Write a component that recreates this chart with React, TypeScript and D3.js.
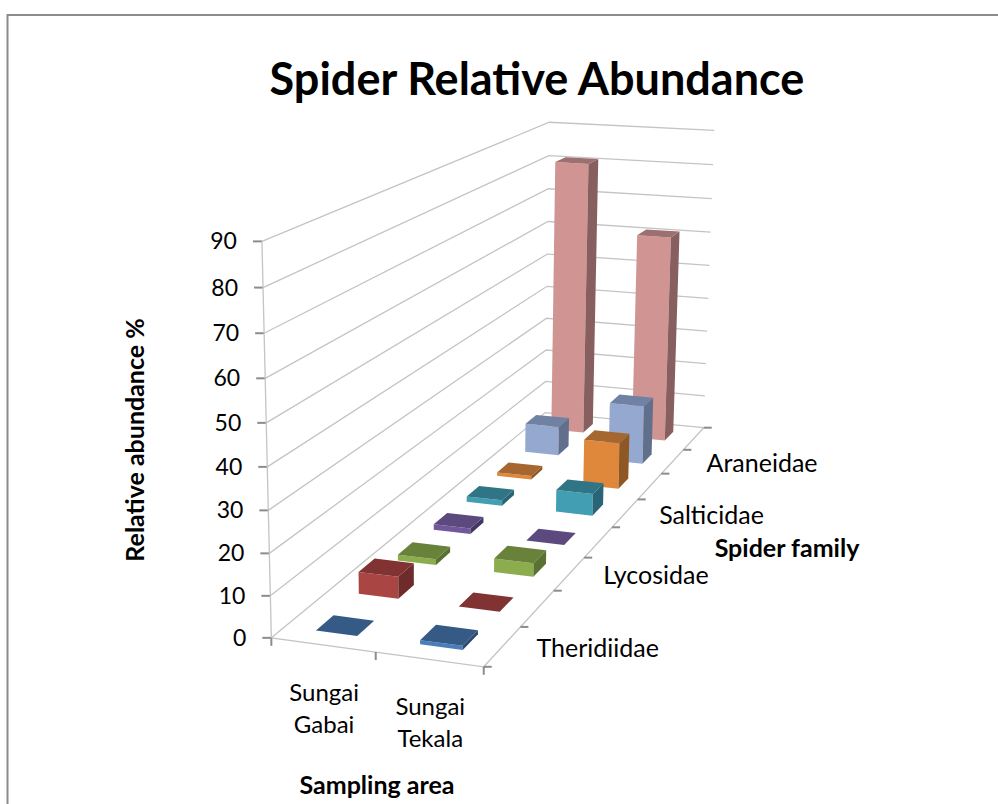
import React from "react";
import * as d3 from "d3";

const areas = ["Sungai Gabai", "Sungai Tekala"];
const families = ["Theridiidae", "", "Lycosidae", "", "Salticidae", "", "Araneidae", ""];
const gabai = [0, 5.5, 1.5, 1.5, 1.5, 1, 8.5, 81];
const tekala = [1, 0, 3.5, 0, 6, 13, 17, 61];
const valueTicks = d3.range(0, 100, 10);
const frontColors = ["#4A7EBB", "#A94644", "#8BAD4E", "#72589A", "#419EB3", "#DF873B", "#95A9D0", "#D09493"];
const topColors = ["#355A85", "#803332", "#68823A", "#5C4A7F", "#307585", "#A66630", "#6F82A3", "#9E6F6F"];
const sideColors = ["#2B4A6E", "#6D2C2B", "#5A7231", "#453763", "#2A6577", "#8F5723", "#5F6F8C", "#875F5F"];

// Camera: fitted from where the box corners fall in the picture.
const anchors: [number, number, number, number, number][] = [
  [0, 0, 0, 272, 638],
  [1, 0, 0, 483, 667],
  [1, 0, 1, 704, 427],
  [0, 0, 1, 545, 413],
  [0, 1, 0, 262, 241],
  [0, 1, 1, 549, 122],
  [1, 1, 1, 714.5, 131],
];

function solveCamera() {
  const rows: number[][] = [];
  const rhs: number[] = [];
  for (const [x, y, z, u, v] of anchors) {
    rows.push([x, y, z, 1, 0, 0, 0, 0, -u * x, -u * y, -u * z]);
    rhs.push(u);
    rows.push([0, 0, 0, 0, x, y, z, 1, -v * x, -v * y, -v * z]);
    rhs.push(v);
  }
  const n = 11;
  const A = d3.range(n).map((i) =>
    d3.range(n + 1).map((j) =>
      j < n ? d3.sum(rows, (r) => r[i] * r[j]) : d3.sum(rows, (r, k) => r[i] * rhs[k])
    )
  );
  for (let c = 0; c < n; c++) {
    let p = c;
    for (let r = c + 1; r < n; r++) if (Math.abs(A[r][c]) > Math.abs(A[p][c])) p = r;
    [A[c], A[p]] = [A[p], A[c]];
    for (let r = 0; r < n; r++) {
      if (r === c) continue;
      const f = A[r][c] / A[c][c];
      for (let j = c; j <= n; j++) A[r][j] -= f * A[c][j];
    }
  }
  return A.map((r, i) => r[n] / r[i]);
}
const h = solveCamera();
function project(x: number, y: number, z: number): [number, number] {
  const w = h[8] * x + h[9] * y + h[10] * z + 1;
  return [
    (h[0] * x + h[1] * y + h[2] * z + h[3]) / w,
    (h[4] * x + h[5] * y + h[6] * z + h[7]) / w,
  ];
}

const xBand = d3.scaleBand<number>().domain([0, 1]).range([0, 1]).paddingInner(0.6).paddingOuter(0.3);
const zBand = d3.scaleBand<number>().domain(d3.range(8)).range([0, 1]).paddingInner(0.6).paddingOuter(0.3);
const yScale = d3.scaleLinear().domain([0, 90]).range([0, 1]);
const zEdges = d3.range(9).map((i) => i / 8);
const poly = (pts: [number, number][]) => d3.line()(pts) + "Z";
const FONT = "Lato, Carlito, 'Open Sans', sans-serif";
const gridColor = "#c4c4c4";
const tickColor = "#8c8c8c";

export default function App() {
  const bars: React.ReactNode[] = [];
  for (let s = 7; s >= 0; s--) {
    [gabai[s], tekala[s]].forEach((value, a) => {
      const x0 = xBand(a)!;
      const x1 = x0 + xBand.bandwidth();
      const z0 = zBand(s)!;
      const z1 = z0 + zBand.bandwidth();
      const y = yScale(value);
      bars.push(
        <g key={`${s}-${a}`}>
          <path d={poly([project(x0, y, z0), project(x1, y, z0), project(x1, 0, z0), project(x0, 0, z0)])} fill={frontColors[s]} />
          <path d={poly([project(x1, y, z0), project(x1, y, z1), project(x1, 0, z1), project(x1, 0, z0)])} fill={sideColors[s]} />
          <path d={poly([project(x0, y, z0), project(x0, y, z1), project(x1, y, z1), project(x1, y, z0)])} fill={topColors[s]} />
        </g>
      );
    });
  }
  const lab = (p: [number, number], dx: number, dy: number) => ({ x: p[0] + dx, y: p[1] + dy });
  return (
    <svg width={998} height={804} style={{ position: "absolute", left: 0, top: 0, display: "block" }} fontFamily={FONT}>
      <rect width={998} height={804} fill="#fff" />
      <path d="M7.5,804V15H998" fill="none" stroke="#8c8c8c" strokeWidth={2} />
      <text x={537} y={95} textAnchor="middle" fontSize={45} fontWeight={700}>Spider Relative Abundance</text>

      {valueTicks.map((t) => {
        const y = yScale(t);
        return (
          <g key={t}>
            <path d={d3.line()([project(0, y, 0), project(0, y, 1), project(1, y, 1)])!} fill="none" stroke={gridColor} strokeWidth={1.3} />
            <path d={d3.line()([[project(0, y, 0)[0] - 9, project(0, y, 0)[1]], project(0, y, 0)])!} stroke={tickColor} strokeWidth={2} />
            <text {...lab(project(0, y, 0), -25, 8)} textAnchor="end" fontSize={23}>{t}</text>
          </g>
        );
      })}
      <path d={d3.line()([project(0, 1, 0), project(0, 0, 0), project(1, 0, 0), project(1, 0, 1)])!} fill="none" stroke={gridColor} strokeWidth={1.3} />
      {[0, 0.5, 1].map((t) => {
        const p = project(t, 0, 0);
        return <path key={t} d={d3.line()([p, [p[0], p[1] + 8]])!} stroke={tickColor} strokeWidth={2} />;
      })}
      {zEdges.map((t) => {
        const p = project(1, 0, t);
        return <path key={t} d={d3.line()([p, [p[0] + 8, p[1]]])!} stroke={tickColor} strokeWidth={2} />;
      })}

      {bars}

      {families.map((f, i) => {
        const c = project(1, 0, zBand(i)! + zBand.bandwidth() / 2);
        return f ? <text key={i} {...lab(c, 34, 10.5)} fontSize={25}>{f}</text> : null;
      })}
      {areas.map((a, i) => {
        const c = project(xBand(i)! + xBand.bandwidth() / 2, 0, 0);
        return (
          <text key={a} textAnchor="middle" fontSize={24}>
            {a.split(" ").map((w, j) => (
              <tspan key={w} x={c[0] + 1} y={c[1] + 56 + j * 32}>{w}</tspan>
            ))}
          </text>
        );
      })}
      <text x={787} y={557} textAnchor="middle" fontSize={25} fontWeight={700}>Spider family</text>
      <text x={377} y={794} textAnchor="middle" fontSize={25} fontWeight={700}>Sampling area</text>
      <text transform="translate(144,440) rotate(-90)" textAnchor="middle" fontSize={25} fontWeight={700}>Relative abundance %</text>
    </svg>
  );
}
